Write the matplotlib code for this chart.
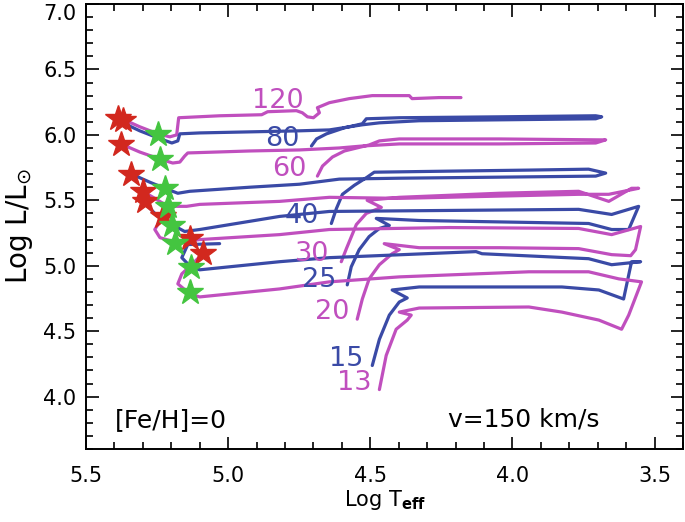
import matplotlib
matplotlib.use("Agg")
import matplotlib.pyplot as plt
from matplotlib.ticker import MultipleLocator

# tracks: log Teff / log L
t120 = [5.374, 5.311, 5.247, 5.205, 5.181, 5.174, 5.030, 4.882, 4.861, 4.760, 4.739, 4.721, 4.700, 4.679, 4.686, 4.644, 4.574, 4.493, 4.363, 4.353, 4.258, 4.181]
l120 = [6.123, 6.062, 6.008, 5.985, 6.000, 6.131, 6.146, 6.154, 6.177, 6.185, 6.169, 6.138, 6.131, 6.169, 6.208, 6.246, 6.277, 6.300, 6.300, 6.277, 6.285, 6.285]

t80 = [4.707, 4.689, 4.654, 4.591, 4.528, 4.514, 4.398, 4.047, 3.707, 3.686, 3.707, 4.047, 4.328, 4.468, 4.528, 4.644, 4.749, 4.925, 5.100, 5.170, 5.177, 5.198, 5.247, 5.311, 5.370]
l80 = [5.915, 5.969, 6.008, 6.054, 6.085, 6.123, 6.131, 6.138, 6.146, 6.138, 6.123, 6.115, 6.108, 6.092, 6.077, 6.038, 6.031, 6.023, 6.015, 6.008, 5.954, 5.938, 5.977, 6.031, 6.092]

t60 = [4.686, 4.668, 4.633, 4.591, 4.504, 4.468, 4.398, 4.047, 3.696, 3.672, 3.707, 4.047, 4.398, 4.528, 4.609, 4.749, 4.925, 5.142, 5.153, 5.170, 5.195, 5.240, 5.311, 5.377]
l60 = [5.685, 5.762, 5.831, 5.877, 5.923, 5.954, 5.969, 5.969, 5.962, 5.962, 5.938, 5.931, 5.931, 5.915, 5.900, 5.885, 5.877, 5.862, 5.838, 5.792, 5.785, 5.815, 5.869, 5.931]

t40 = [4.637, 4.619, 4.598, 4.556, 4.511, 4.486, 4.223, 3.942, 3.732, 3.672, 3.707, 4.047, 4.398, 4.609, 4.749, 4.925, 5.135, 5.177, 5.223, 5.275, 5.339]
l40 = [5.323, 5.438, 5.546, 5.615, 5.677, 5.715, 5.723, 5.731, 5.738, 5.708, 5.685, 5.677, 5.669, 5.662, 5.623, 5.600, 5.569, 5.554, 5.592, 5.638, 5.700]

t30 = [4.602, 4.584, 4.549, 4.514, 4.461, 4.511, 4.398, 4.047, 3.767, 3.661, 3.581, 3.556, 3.661, 3.767, 4.398, 4.644, 4.819, 5.100, 5.146, 5.212, 5.258, 5.300]
l30 = [5.031, 5.131, 5.315, 5.400, 5.446, 5.500, 5.523, 5.554, 5.569, 5.492, 5.592, 5.592, 5.546, 5.546, 5.515, 5.523, 5.492, 5.469, 5.454, 5.454, 5.515, 5.569]

t25 = [4.581, 4.567, 4.539, 4.504, 4.468, 4.433, 4.479, 4.328, 3.732, 3.651, 3.591, 3.556, 3.651, 3.767, 4.644, 4.819, 5.100, 5.153, 5.198, 5.251, 5.275, 5.293]
l25 = [4.854, 4.992, 5.123, 5.223, 5.285, 5.308, 5.362, 5.346, 5.323, 5.277, 5.277, 5.454, 5.392, 5.431, 5.415, 5.377, 5.277, 5.262, 5.315, 5.385, 5.438, 5.492]

t20 = [4.546, 4.528, 4.504, 4.468, 4.423, 4.398, 4.451, 4.328, 4.047, 3.767, 3.651, 3.584, 3.567, 3.549, 3.651, 3.767, 4.223, 4.644, 4.819, 5.100, 5.181, 5.240, 5.258, 5.230]
l20 = [4.592, 4.746, 4.900, 5.008, 5.092, 5.123, 5.169, 5.138, 5.138, 5.131, 5.085, 5.077, 5.123, 5.300, 5.238, 5.285, 5.292, 5.277, 5.238, 5.200, 5.177, 5.215, 5.277, 5.377]

t15 = [4.493, 4.468, 4.433, 4.398, 4.370, 4.423, 4.328, 3.826, 3.696, 3.609, 3.581, 3.549, 3.651, 3.732, 4.107, 4.128, 4.644, 4.819, 5.100, 5.132, 5.163, 5.142, 5.030]
l15 = [4.238, 4.438, 4.623, 4.723, 4.754, 4.815, 4.838, 4.838, 4.815, 4.746, 5.031, 5.031, 5.008, 5.054, 5.092, 5.108, 5.062, 5.031, 4.969, 4.992, 5.062, 5.162, 5.169]

t13 = [4.468, 4.444, 4.409, 4.370, 4.356, 4.398, 4.328, 3.942, 3.826, 3.696, 3.616, 3.591, 3.546, 3.626, 3.732, 3.942, 4.398, 4.644, 4.819, 5.100, 5.135, 5.177, 5.163, 5.118, 5.089]
l13 = [4.054, 4.315, 4.515, 4.585, 4.623, 4.646, 4.677, 4.685, 4.646, 4.585, 4.515, 4.623, 4.877, 4.900, 4.954, 4.954, 4.915, 4.877, 4.823, 4.762, 4.785, 4.862, 4.938, 5.031, 5.092]

# stars
red_t = [5.388, 5.370, 5.377, 5.340, 5.299, 5.293, 5.229, 5.135, 5.088]
red_l = [6.131, 6.115, 5.928, 5.698, 5.569, 5.492, 5.377, 5.210, 5.095]
green_t = [5.246, 5.240, 5.223, 5.211, 5.199, 5.188, 5.129, 5.135]
green_l = [6.005, 5.813, 5.595, 5.454, 5.313, 5.172, 4.992, 4.800]

# mass labels
masses = ["120", "80", "60", "40", "30", "25", "20", "15", "13"]
lab_t = [4.826, 4.809, 4.784, 4.739, 4.704, 4.679, 4.633, 4.584, 4.556]
lab_l = [6.262, 5.969, 5.738, 5.377, 5.092, 4.892, 4.646, 4.285, 4.108]

yticks = [4.0, 4.5, 5.0, 5.5, 6.0, 6.5, 7.0]

MAG = "#c04fbe"
BLU = "#3a4aa6"

tracks = [(t120, l120, MAG), (t80, l80, BLU), (t60, l60, MAG), (t40, l40, BLU),
          (t30, l30, MAG), (t25, l25, BLU), (t20, l20, MAG), (t15, l15, BLU), (t13, l13, MAG)]

fig = plt.figure(figsize=(6.85, 5.22), dpi=100)
ax = fig.add_axes([86/685, 1-449/522, 597/685, 445/522])

for t, l, c in tracks:
    ax.plot(t, l, color=c, lw=2.3, solid_joinstyle='round', solid_capstyle='round')

ax.plot(red_t, red_l, ls='none', marker='*', ms=19, color='#d2281e', mec='#d2281e')
ax.plot(green_t, green_l, ls='none', marker='*', ms=19, color='#44c540', mec='#44c540')

for m, x, y, (_, _, c) in zip(masses, lab_t, lab_l, tracks):
    ax.text(x, y, m, color=c, fontsize=19.5, ha='center', va='center')

ax.text(5.398, 3.823, "[Fe/H]=0", fontsize=18, ha='left', va='center')
ax.text(3.961, 3.823, "v=150 km/s", fontsize=18, ha='center', va='center')

ax.set_xlim(5.5, 3.4)
ax.set_ylim(3.6, 7.0)
ax.xaxis.set_major_locator(MultipleLocator(0.5))
ax.xaxis.set_minor_locator(MultipleLocator(0.1))
ax.set_yticks(yticks, labels=[f"{v:.1f}" for v in yticks])
ax.yaxis.set_minor_locator(MultipleLocator(0.1))
ax.xaxis.set_major_formatter(plt.FormatStrFormatter('%.1f'))
ax.tick_params(which='both', direction='in', top=True, right=True, width=1.2, labelsize=15)
ax.tick_params(which='major', length=9)
ax.tick_params(which='minor', length=5)
ax.tick_params(axis='x', pad=12)
ax.tick_params(axis='y', pad=7)
for s in ax.spines.values():
    s.set_linewidth(1.4)
# keep the top label inside the figure
ax.get_yticklabels()[-1].set_verticalalignment('top')

ax.set_xlabel(r"Log T$_{\mathbf{eff}}$", fontsize=15, labelpad=2)
ax.set_ylabel(r"Log L/L$_{\odot}$", fontsize=20, labelpad=6)

fig.savefig("out.png", dpi=100)
